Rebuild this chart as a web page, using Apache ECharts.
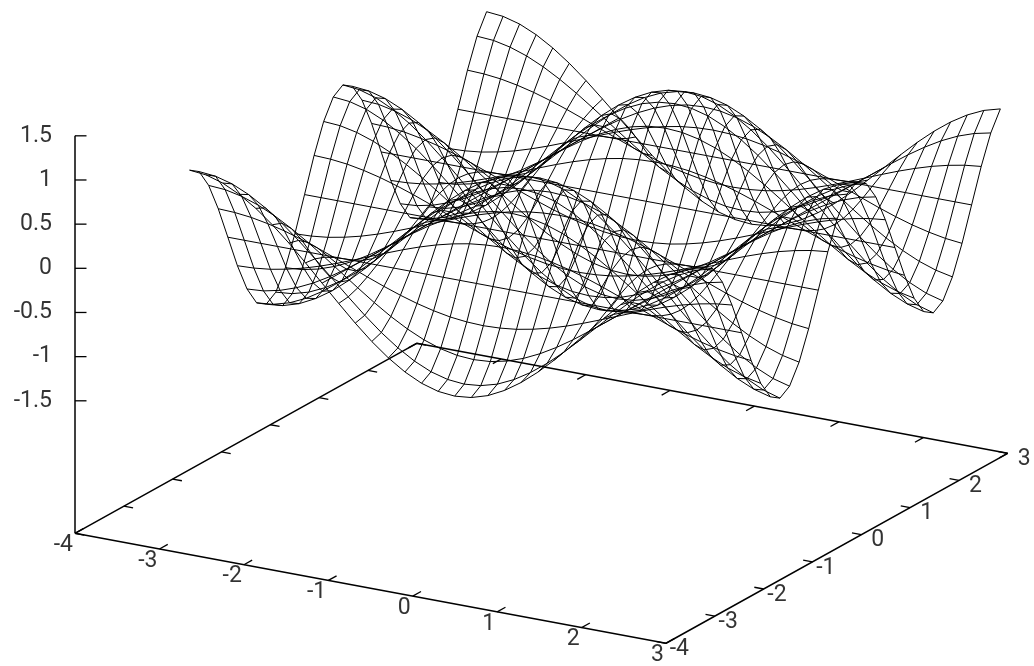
<!DOCTYPE html>
<html>
<head>
<meta charset="utf-8">
<title>surface</title>
<script src="https://cdn.jsdelivr.net/npm/echarts@6/dist/echarts.min.js"></script>
<style>
    html, body { margin: 0; padding: 0; background: #fff; }
    #chart { width: 1034px; height: 666px; }
</style>
</head>
<body>
<div id="chart"></div>
<script>
// sample positions read along the surface edges
const xs = [-3.14, -2.945, -2.749, -2.553, -2.356, -2.16, -1.963, -1.767, -1.571, -1.374, -1.178, -0.982, -0.785, -0.589, -0.393, -0.196, 0, 0.196, 0.393, 0.589, 0.785, 0.982, 1.178, 1.374, 1.571, 1.767, 1.963, 2.16, 2.356, 2.553, 2.749, 2.945];
const ys = xs;

// height profiles along x, one per distinct row of the mesh
const crest = [1, 0.981, 0.924, 0.831, 0.707, 0.556, 0.383, 0.195, 0, -0.195, -0.383, -0.556, -0.707, -0.831, -0.924, -0.981, -1, -0.981, -0.924, -0.831, -0.707, -0.556, -0.383, -0.195, 0, 0.195, 0.383, 0.556, 0.707, 0.831, 0.924, 0.981];
const high = [0.924, 0.906, 0.854, 0.768, 0.653, 0.514, 0.354, 0.18, 0, -0.18, -0.354, -0.514, -0.653, -0.768, -0.854, -0.906, -0.924, -0.906, -0.854, -0.768, -0.653, -0.514, -0.354, -0.18, 0, 0.18, 0.354, 0.514, 0.653, 0.768, 0.854, 0.906];
const mid = [0.707, 0.694, 0.653, 0.588, 0.5, 0.393, 0.271, 0.138, 0, -0.138, -0.271, -0.393, -0.5, -0.588, -0.653, -0.694, -0.707, -0.694, -0.653, -0.588, -0.5, -0.393, -0.271, -0.138, 0, 0.138, 0.271, 0.393, 0.5, 0.588, 0.653, 0.694];
const low = [0.383, 0.375, 0.354, 0.318, 0.271, 0.213, 0.147, 0.075, 0, -0.075, -0.147, -0.213, -0.271, -0.318, -0.354, -0.375, -0.383, -0.375, -0.354, -0.318, -0.271, -0.213, -0.147, -0.075, 0, 0.075, 0.147, 0.213, 0.271, 0.318, 0.354, 0.375];
const flat = [0, 0, 0, 0, 0, 0, 0, 0, 0, 0, 0, 0, 0, 0, 0, 0, 0, 0, 0, 0, 0, 0, 0, 0, 0, 0, 0, 0, 0, 0, 0, 0];
const lowNeg = [-0.383, -0.375, -0.354, -0.318, -0.271, -0.213, -0.147, -0.075, 0, 0.075, 0.147, 0.213, 0.271, 0.318, 0.354, 0.375, 0.383, 0.375, 0.354, 0.318, 0.271, 0.213, 0.147, 0.075, 0, -0.075, -0.147, -0.213, -0.271, -0.318, -0.354, -0.375];
const midNeg = [-0.707, -0.694, -0.653, -0.588, -0.5, -0.393, -0.271, -0.138, 0, 0.138, 0.271, 0.393, 0.5, 0.588, 0.653, 0.694, 0.707, 0.694, 0.653, 0.588, 0.5, 0.393, 0.271, 0.138, 0, -0.138, -0.271, -0.393, -0.5, -0.588, -0.653, -0.694];
const highNeg = [-0.924, -0.906, -0.854, -0.768, -0.653, -0.514, -0.354, -0.18, 0, 0.18, 0.354, 0.514, 0.653, 0.768, 0.854, 0.906, 0.924, 0.906, 0.854, 0.768, 0.653, 0.514, 0.354, 0.18, 0, -0.18, -0.354, -0.514, -0.653, -0.768, -0.854, -0.906];
const trough = [-1, -0.981, -0.924, -0.831, -0.707, -0.556, -0.383, -0.195, 0, 0.195, 0.383, 0.556, 0.707, 0.831, 0.924, 0.981, 1, 0.981, 0.924, 0.831, 0.707, 0.556, 0.383, 0.195, 0, -0.195, -0.383, -0.556, -0.707, -0.831, -0.924, -0.981];

// rows of the mesh, from the first y to the last
const zRows = [
    crest, high, mid, low, flat, lowNeg, midNeg, highNeg, trough, highNeg, midNeg, lowNeg, flat, low, mid, high,
    crest, high, mid, low, flat, lowNeg, midNeg, highNeg, trough, highNeg, midNeg, lowNeg, flat, low, mid, high
];

const xTicks = [-4, -3, -2, -1, 0, 1, 2, 3];
const yTicks = [-4, -3, -2, -1, 0, 1, 2, 3];
const zTicks = [-1.5, -1, -0.5, 0, 0.5, 1, 1.5];
const xMin = -4, xMax = 3, yMin = -4, yMax = 3, zBase = -3;

// 把三维坐标投影到画布
function project(x, y, z) {
    const a = x - xMin;
    const b = y - yMin;
    return [
        75 + a * 84.43 + b * 48.81,
        533.3 + a * 15.71 - b * 27.14 - (z - zBase) * 88.33
    ];
}

function lineSeries(points, width) {
    return {
        type: 'line',
        data: points,
        showSymbol: false,
        silent: true,
        clip: false,
        animation: false,
        lineStyle: { color: '#000', width: width }
    };
}

function labelSeries(points, names, position) {
    return {
        type: 'scatter',
        symbolSize: 0,
        silent: true,
        animation: false,
        data: points.map((p, i) => ({ value: p, name: names[i] })),
        labelLayout: { hideOverlap: false },
        label: {
            show: true,
            position: position,
            align: 'right',
            verticalAlign: 'middle',
            formatter: p => p.name,
            color: '#000',
            fontSize: 23,
            fontFamily: 'Roboto'
        }
    };
}

const series = [];

// 网格线
zRows.forEach((row, j) => {
    series.push(lineSeries(row.map((z, i) => project(xs[i], ys[j], z)), 1));
});
xs.forEach((x, i) => {
    series.push(lineSeries(zRows.map((row, j) => project(x, ys[j], row[i])), 1));
});

// 底框和 z 轴
series.push(lineSeries([
    project(xMin, yMin, zBase), project(xMax, yMin, zBase), project(xMax, yMax, zBase),
    project(xMin, yMax, zBase), project(xMin, yMin, zBase)
], 1.5));
series.push(lineSeries([project(xMin, yMin, zBase), project(xMin, yMin, zTicks[zTicks.length - 1])], 1.5));

// 刻度线
xTicks.forEach(t => {
    series.push(lineSeries([project(t, yMin, zBase), project(t, yMin + 0.17, zBase)], 1.3));
    series.push(lineSeries([project(t, yMax, zBase), project(t, yMax - 0.17, zBase)], 1.3));
});
yTicks.forEach(t => {
    series.push(lineSeries([project(xMin, t, zBase), project(xMin + 0.11, t, zBase)], 1.3));
    series.push(lineSeries([project(xMax, t, zBase), project(xMax - 0.11, t, zBase)], 1.3));
});
zTicks.forEach(t => {
    const p = project(xMin, yMin, t);
    series.push(lineSeries([p, [p[0] + 11.5, p[1]]], 1.3));
});

// 刻度文字
series.push(labelSeries(xTicks.map(t => project(t, yMin, zBase)), xTicks.map(String), [-2, 12]));
series.push(labelSeries(yTicks.map(t => project(xMax, t, zBase)), yTicks.map(String), [23, 6]));
series.push(labelSeries(zTicks.map(t => project(xMin, yMin, t)), zTicks.map(String), [-23, 0]));

const chart = echarts.init(document.getElementById('chart'), null, { renderer: 'canvas' });
chart.setOption({
    animation: false,
    backgroundColor: '#fff',
    grid: { left: 0, right: 0, top: 0, bottom: 0 },
    xAxis: { type: 'value', min: 0, max: 1034, show: false },
    yAxis: { type: 'value', min: 0, max: 666, inverse: true, show: false },
    series: series
});

window.addEventListener('resize', function () {
    chart.resize();
});
</script>
</body>
</html>
